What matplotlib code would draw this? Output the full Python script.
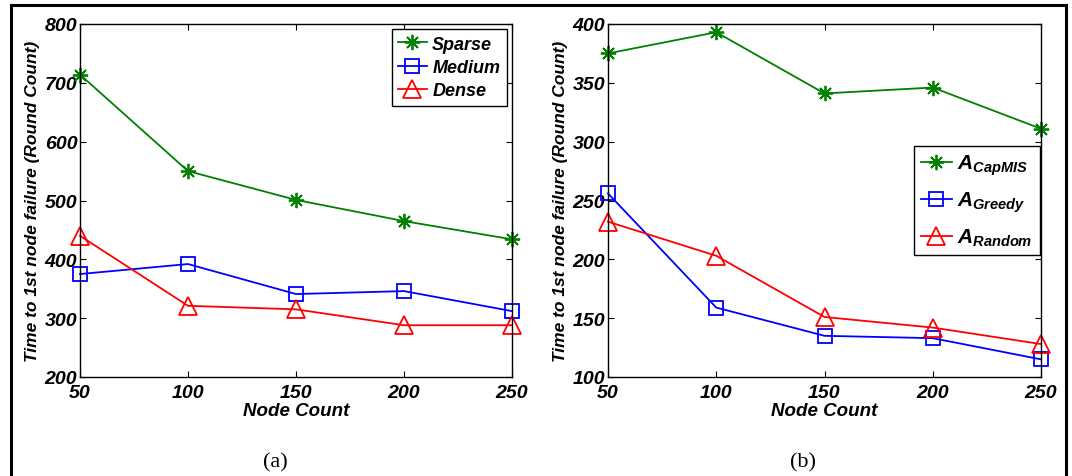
import matplotlib
matplotlib.use("Agg")
import matplotlib.pyplot as plt
from matplotlib.lines import Line2D

# node counts shared by both panels
node_count = [50, 100, 150, 200, 250]

# panel (a): density
sparse = [714, 550, 501, 465, 434]
medium = [375, 392, 341, 346, 312]
dense = [440, 321, 315, 288, 288]

# panel (b): algorithms
capmis = [375, 393, 341, 346, 311]
greedy = [256, 159, 135, 133, 115]
random_alg = [232, 203, 151, 142, 128]

plt.rcParams['font.family'] = 'Liberation Sans'
plt.rcParams['font.weight'] = 'bold'
plt.rcParams['font.style'] = 'italic'
plt.rcParams['axes.labelweight'] = 'bold'
plt.rcParams['mathtext.fontset'] = 'custom'
plt.rcParams['mathtext.it'] = 'Liberation Sans:bold:italic'
plt.rcParams['mathtext.rm'] = 'Liberation Sans:bold:italic'

GREEN = '#008000'
BLUE = '#0000ff'
RED = '#ff0000'
STAR = (8, 2, 0)

fig = plt.figure(figsize=(10.72, 4.77), dpi=100)

# outer frame
for xs, ys in [([11 / 1072, 11 / 1072], [0, 1 - 6 / 477]),
               ([11 / 1072, 1066 / 1072], [1 - 6 / 477, 1 - 6 / 477]),
               ([1066 / 1072, 1066 / 1072], [0, 1 - 6 / 477])]:
    fig.add_artist(Line2D(xs, ys, color='black', lw=2.2, transform=fig.transFigure))

ax1 = fig.add_axes([80 / 1072, 1 - 378 / 477, 432 / 1072, 353 / 477])
ax2 = fig.add_axes([608 / 1072, 1 - 378 / 477, 433 / 1072, 353 / 477])


def style(ax, ylim, yticks):
    ax.set_xlim(50, 250)
    ax.set_ylim(*ylim)
    ax.set_xticks(node_count)
    ax.set_yticks(yticks)
    ax.tick_params(direction='in', top=True, right=True, length=4, width=0.8,
                   labelsize=14)
    ax.tick_params(axis='x', pad=5)
    ax.tick_params(axis='y', pad=2)
    for s in ax.spines.values():
        s.set_linewidth(1.0)
    ax.set_xlabel('Node Count', fontsize=13.5, labelpad=1)
    ax.set_ylabel('Time to 1st node failure (Round Count)', fontsize=12.5, labelpad=3)


line_kw = dict(lw=1.3, markerfacecolor='none', markeredgewidth=1.3, clip_on=False)

ax1.plot(node_count, sparse, color=GREEN, marker=STAR, markersize=11, label='Sparse', **line_kw)
ax1.plot(node_count, medium, color=BLUE, marker='s', markersize=10, label='Medium', **line_kw)
ax1.plot(node_count, dense, color=RED, marker='^', markersize=13, label='Dense', **line_kw)
style(ax1, (200, 800), range(200, 801, 100))
leg1 = ax1.legend(loc='upper right', fontsize=13, handlelength=1.6, handletextpad=0.3,
                  borderaxespad=0.3, fancybox=False, edgecolor='black', framealpha=1,
                  labelspacing=0.35, borderpad=0.35)
leg1.get_frame().set_linewidth(1.0)

ax2.plot(node_count, capmis, color=GREEN, marker=STAR, markersize=11,
         label=r'$A_{CapMIS}$', **line_kw)
ax2.plot(node_count, greedy, color=BLUE, marker='s', markersize=10,
         label=r'$A_{Greedy}$', **line_kw)
ax2.plot(node_count, random_alg, color=RED, marker='^', markersize=13,
         label=r'$A_{Random}$', **line_kw)
style(ax2, (100, 400), range(100, 401, 50))
leg2 = ax2.legend(loc='center right', bbox_to_anchor=(1.0, 0.5), fontsize=15,
                  handlelength=1.5, handletextpad=0.25, borderaxespad=0.05,
                  fancybox=False, edgecolor='black', framealpha=1,
                  labelspacing=0.6, borderpad=0.35)
leg2.get_frame().set_linewidth(1.0)

fig.text(275 / 1072, 1 - 463 / 477, '(a)', ha='center', va='center', fontsize=16,
         family='Liberation Serif', weight='normal', style='normal')
fig.text(803 / 1072, 1 - 463 / 477, '(b)', ha='center', va='center', fontsize=16,
         family='Liberation Serif', weight='normal', style='normal')

fig.savefig('out.png', dpi=100)
